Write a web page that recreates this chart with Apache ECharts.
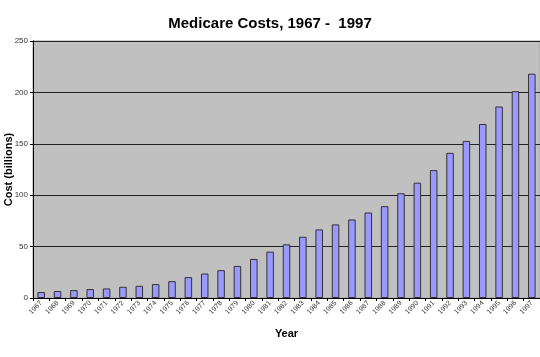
<!DOCTYPE html>
<html>
<head>
<meta charset="utf-8">
<script src="https://cdn.jsdelivr.net/npm/echarts@6/dist/echarts.min.js"></script>
<style>html,body{margin:0;padding:0;background:#fff}#c{width:540px;height:357px}</style>
</head>
<body>
<div id="c"></div>
<script>
const years = ['1967','1968','1969','1970','1971','1972','1973','1974','1975','1976','1977','1978','1979','1980','1981','1982','1983','1984','1985','1986','1987','1988','1989','1990','1991','1992','1993','1994','1995','1996','1997'];
const costs = [5.8,6.8,7.7,8.7,9.3,10.9,11.9,13.5,16.4,20.3,23.8,27.1,31.2,38.0,45.1,52.2,59.6,66.7,71.6,76.4,83.2,89.3,101.9,112.2,124.4,141.2,152.8,169.3,186.3,201.2,218.2];
const yTicks = [0,50,100,150,200,250];

const chart = echarts.init(document.getElementById('c'), null, {renderer:'canvas'});
chart.setOption({
  animation:false,
  backgroundColor:'#ffffff',
  title:{text:'Medicare Costs, 1967 -  1997',left:'center',top:11,
    textStyle:{fontFamily:'Liberation Sans, Arial',fontSize:15,fontWeight:'bold',color:'#000'}},
  grid:{left:33,right:0,top:41,bottom:59,containLabel:false,outerBoundsMode:'none',
    show:true,backgroundColor:'#c0c0c0',borderColor:'#a0a0a0',borderWidth:1},
  xAxis:{type:'category',data:years,
    name:'Year',nameLocation:'middle',nameGap:30,nameMoveOverlap:false,
    nameTextStyle:{fontFamily:'Liberation Sans, Arial',fontSize:11,fontWeight:'bold',color:'#000'},
    axisLine:{lineStyle:{color:'#000',width:1}},
    axisTick:{show:true,length:3,lineStyle:{color:'#000'}},
    axisLabel:{rotate:45,fontSize:7,color:'#333',fontFamily:'Liberation Sans, Arial',margin:4,interval:0}},
  yAxis:{type:'value',min:0,max:250,interval:50,
    name:'Cost (billions)',nameLocation:'middle',nameGap:19,nameMoveOverlap:false,
    nameTextStyle:{fontFamily:'Liberation Sans, Arial',fontSize:11,fontWeight:'bold',color:'#000'},
    axisLine:{show:true,lineStyle:{color:'#000',width:1}},
    axisTick:{show:true,length:3,lineStyle:{color:'#000'}},
    axisLabel:{fontSize:8,color:'#333',fontFamily:'Liberation Sans, Arial',margin:5,
      formatter:function(v){return yTicks.indexOf(v)>=0?String(v):'';}},
    splitLine:{lineStyle:{color:'#222',width:1}}},
  series:[{type:'bar',data:costs,barWidth:'46%',
    itemStyle:{color:'#9999ff',borderColor:'#333',borderWidth:1}}]
});
</script>
</body>
</html>
